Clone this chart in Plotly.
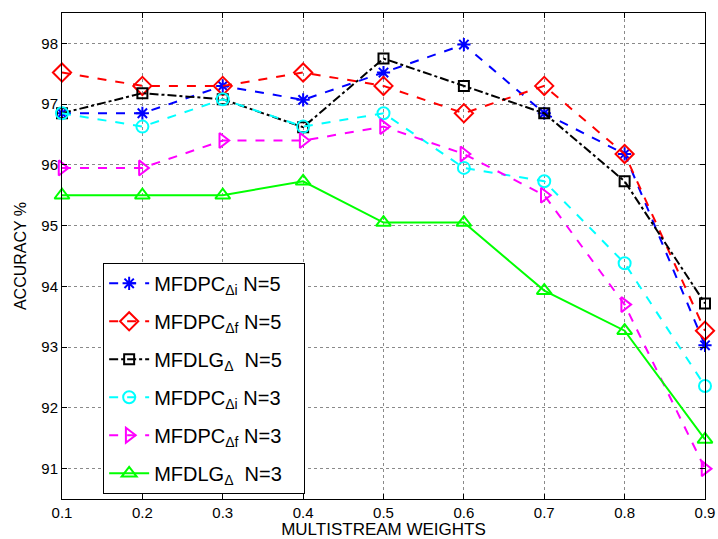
import plotly.graph_objects as go

# Multistream weight settings on the x axis
weights = [0.1, 0.2, 0.3, 0.4, 0.5, 0.6, 0.7, 0.8, 0.9]

# Recognition accuracy (%) per system
mfdpc_di_n5 = [96.85, 96.85, 97.30, 97.07, 97.52, 97.98, 96.85, 96.18, 93.03]
mfdpc_df_n5 = [97.52, 97.30, 97.30, 97.52, 97.30, 96.85, 97.30, 96.18, 93.27]
mfdlg_n5 = [96.85, 97.18, 97.08, 96.62, 97.75, 97.30, 96.85, 95.73, 93.72]
mfdpc_di_n3 = [96.85, 96.63, 97.08, 96.63, 96.85, 95.95, 95.73, 94.38, 92.36]
mfdpc_df_n3 = [95.95, 95.95, 96.40, 96.40, 96.63, 96.18, 95.50, 93.70, 91.00]
mfdlg_n3 = [95.50, 95.50, 95.50, 95.73, 95.05, 95.05, 93.93, 93.27, 91.48]

series_names = [
    "MFDPC<sub>Δi</sub> N=5",
    "MFDPC<sub>Δf</sub> N=5",
    "MFDLG<sub>Δ</sub>  N=5",
    "MFDPC<sub>Δi</sub> N=3",
    "MFDPC<sub>Δf</sub> N=3",
    "MFDLG<sub>Δ</sub>  N=3",
]

x_ticks = [0.1, 0.2, 0.3, 0.4, 0.5, 0.6, 0.7, 0.8, 0.9]
y_ticks = [91, 92, 93, 94, 95, 96, 97, 98]

styles = [
    dict(color="#0000ff", dash="dash", symbol="asterisk-open", size=11),
    dict(color="#ff0000", dash="dash", symbol="diamond-open", size=14),
    dict(color="#000000", dash="dashdot", symbol="square-open", size=10),
    dict(color="#00ffff", dash="dash", symbol="circle-open", size=12),
    dict(color="#ff00ff", dash="dash", symbol="triangle-right-open", size=13),
    dict(color="#00ff00", dash="solid", symbol="triangle-up-open", size=13),
]

all_series = [mfdpc_di_n5, mfdpc_df_n5, mfdlg_n5, mfdpc_di_n3, mfdpc_df_n3, mfdlg_n3]

fig = go.Figure()
for i, (name, vals, st) in enumerate(zip(series_names, all_series, styles)):
    fig.add_trace(go.Scatter(
        x=weights, y=vals, name=name + "\u00a0\u00a0\u00a0", mode="lines+markers",
        legendgroup=f"g{i}",
        line=dict(color=st["color"], width=2, dash=st["dash"]),
        marker=dict(symbol=st["symbol"], size=st["size"], color=st["color"],
                    line=dict(color=st["color"], width=2)),
        cliponaxis=False,
    ))

axis_common = dict(
    showgrid=True, gridcolor="#8a8a8a", griddash="dot", gridwidth=1,
    showline=True, linecolor="black", linewidth=1, mirror="ticks",
    ticks="inside", ticklen=5, tickcolor="black", zeroline=False,
    automargin=False,
    tickfont=dict(family="Liberation Sans, Arial, sans-serif", size=15, color="black"),
)

fig.update_layout(
    width=718, height=539,
    margin=dict(l=62, r=13, t=13, b=40),
    paper_bgcolor="white", plot_bgcolor="white",
    font=dict(family="Liberation Sans, Arial, sans-serif", color="black"),
    showlegend=True,
    legend=dict(
        x=0.064, y=0.486, xanchor="left", yanchor="top",
        bgcolor="white", bordercolor="black", borderwidth=1,
        font=dict(size=20, color="black"),
        itemwidth=40, tracegroupgap=9,
    ),
    xaxis=dict(
        range=[0.1, 0.9], tickvals=x_ticks, ticktext=[f"{v:.1f}" for v in x_ticks],
        title=dict(text="MULTISTREAM WEIGHTS", font=dict(size=17), standoff=7),
        **axis_common,
    ),
    yaxis=dict(
        range=[90.5, 98.5], tickvals=y_ticks, ticktext=[str(v) for v in y_ticks],
        title=dict(text="ACCURACY %", font=dict(size=16), standoff=10),
        **axis_common,
    ),
)

fig.write_html("out.html")
